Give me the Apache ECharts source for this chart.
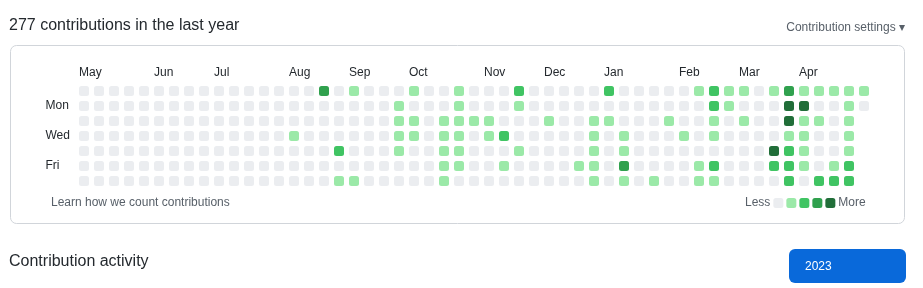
<!DOCTYPE html>
<html lang="en">
<head>
    <meta charset="UTF-8">
    <title>Contributions</title>
    <script src="https://cdn.jsdelivr.net/npm/echarts@6/dist/echarts.min.js"></script>
    <style>
        html, body { margin: 0; height: 100%; background: #fff; }
        #main { width: 923px; height: 288px; }
    </style>
</head>
<body>
<div id="main"></div>
<script type="text/javascript">
// levels per week, rows Sun..Sat (0 = none, 4 = most)
var weekLevels = [
    [0,0,0,0,0,0,0], [0,0,0,0,0,0,0], [0,0,0,0,0,0,0], [0,0,0,0,0,0,0],
    [0,0,0,0,0,0,0], [0,0,0,0,0,0,0], [0,0,0,0,0,0,0], [0,0,0,0,0,0,0],
    [0,0,0,0,0,0,0], [0,0,0,0,0,0,0], [0,0,0,0,0,0,0], [0,0,0,0,0,0,0],
    [0,0,0,0,0,0,0], [0,0,0,0,0,0,0], [0,0,0,1,0,0,0], [0,0,0,0,0,0,0],
    [3,0,0,0,0,0,0], [0,0,0,0,2,0,1], [1,0,0,0,0,0,1], [0,0,0,0,0,0,0],
    [0,0,0,0,0,0,0], [0,1,1,1,1,0,0], [1,0,1,1,0,0,0], [0,0,0,0,0,0,0],
    [0,0,1,1,1,1,1], [1,1,1,1,1,1,0], [0,0,1,0,0,0,0], [0,0,1,1,0,0,0],
    [0,0,0,2,0,1,0], [2,1,0,0,1,0,0], [0,0,0,0,0,0,0], [0,0,1,0,0,0,0],
    [0,0,0,0,0,0,0], [0,0,0,0,0,1,0], [0,0,1,1,1,1,1], [2,0,1,0,0,0,0],
    [0,0,0,1,1,3,1], [0,0,0,0,0,0,0], [0,0,0,0,0,0,1], [0,0,1,0,0,0,0],
    [0,0,0,1,0,0,0], [1,0,0,0,0,1,1], [2,2,1,1,0,2,1], [1,1,0,0,0,0,0],
    [1,0,1,0,0,0,0], [0,0,0,0,0,0,0], [1,0,0,0,4,2,0], [3,4,4,1,2,2,2],
    [1,4,1,1,1,1,0], [1,0,1,0,0,0,2], [1,0,0,0,0,1,2], [1,1,1,1,1,2,2],
    [1,0]
];
var monthNames = ['May', 'Jun', 'Jul', 'Aug', 'Sep', 'Oct', 'Nov', 'Dec', 'Jan', 'Feb', 'Mar', 'Apr'];
var monthStartWeek = [0, 5, 9, 14, 18, 22, 27, 31, 35, 40, 44, 48];
var dayLabels = ['', 'Mon', '', 'Wed', '', 'Fri', ''];
var levelColors = ['#ebedf0', '#9be9a8', '#40c463', '#30a14e', '#216e39'];

var FONT = "'Segoe UI', 'Liberation Sans', Arial, sans-serif";

var weeks = weekLevels.map(function (w, i) { return String(i); });
var cells = [];
weekLevels.forEach(function (w, c) {
    w.forEach(function (lv, r) { cells.push([c, r, lv]); });
});

var chart = echarts.init(document.getElementById('main'));
var option = {
    animation: false,
    title: [
        {
            text: '277 contributions in the last year',
            left: 9, top: 18, padding: 0,
            textStyle: { fontFamily: FONT, fontSize: 16, fontWeight: 'normal', color: '#24292e' }
        },
        {
            text: 'Contribution activity',
            left: 9, top: 254, padding: 0,
            textStyle: { fontFamily: FONT, fontSize: 16, fontWeight: 'normal', color: '#24292e' }
        }
    ],
    grid: [
        { left: 76.5, top: 83.5, width: 795, height: 105 },
        // shifted half a cell so month names start at the cell's left edge
        { left: 71.5, top: 83.5, width: 795, height: 105 }
    ],
    xAxis: [
        {
            type: 'category', gridIndex: 0, data: weeks,
            axisLine: { show: false }, axisTick: { show: false },
            axisLabel: { show: false }, splitLine: { show: false }
        },
        {
            type: 'category', gridIndex: 1, data: weeks, position: 'top',
            axisLine: { show: false }, axisTick: { show: false },
            axisLabel: {
                interval: 0, align: 'left', margin: 5,
                fontFamily: FONT, fontSize: 12, color: '#24292e',
                formatter: function (v, i) {
                    var k = monthStartWeek.indexOf(i);
                    return k >= 0 ? monthNames[k] : '';
                }
            }
        }
    ],
    yAxis: [
        {
            type: 'category', gridIndex: 0, data: dayLabels, inverse: true,
            axisLine: { show: false }, axisTick: { show: false },
            axisLabel: { interval: 0, align: 'left', margin: 31, fontFamily: FONT, fontSize: 12, color: '#24292e' }
        },
        {
            type: 'category', gridIndex: 1, data: dayLabels, inverse: true, show: false
        }
    ],
    visualMap: {
        type: 'piecewise',
        seriesIndex: 0,
        dimension: 2,
        pieces: levelColors.map(function (c, i) { return { value: i, color: c }; }),
        orient: 'horizontal',
        left: 745, top: 197, padding: 0,
        itemWidth: 10, itemHeight: 10, itemGap: 3, itemSymbol: 'roundRect',
        showLabel: false,
        text: ['More', 'Less'],
        textGap: 2,
        selectedMode: false,
        hoverLink: false,
        textStyle: { fontFamily: FONT, fontSize: 12, color: '#586069' }
    },
    series: [
        {
            type: 'scatter',
            xAxisIndex: 0, yAxisIndex: 0,
            symbol: 'roundRect',
            symbolSize: 10,
            data: cells,
            silent: true,
            itemStyle: { opacity: 1 }
        }
    ],
    graphic: [
        {
            type: 'rect', silent: true, z: -1,
            shape: { x: 10.5, y: 45.5, width: 894, height: 178, r: 6 },
            style: { fill: '#fff', stroke: '#d1d5da', lineWidth: 1 }
        },
        {
            type: 'text', silent: true,
            style: { x: 905, y: 28, text: 'Contribution settings \u25be', align: 'right', verticalAlign: 'middle',
                font: '12px ' + FONT, fill: '#586069' }
        },
        {
            type: 'text', silent: true,
            style: { x: 51, y: 203, text: 'Learn how we count contributions', verticalAlign: 'middle',
                font: '12px ' + FONT, fill: '#586069' }
        },
        {
            type: 'rect', silent: true,
            shape: { x: 789, y: 249, width: 117, height: 34, r: 6 },
            style: { fill: '#0969da' }
        },
        {
            type: 'text', silent: true,
            style: { x: 805, y: 267, text: '2023', verticalAlign: 'middle',
                font: '12px ' + FONT, fill: '#fff' }
        }
    ]
};
chart.setOption(option);
</script>
</body>
</html>
